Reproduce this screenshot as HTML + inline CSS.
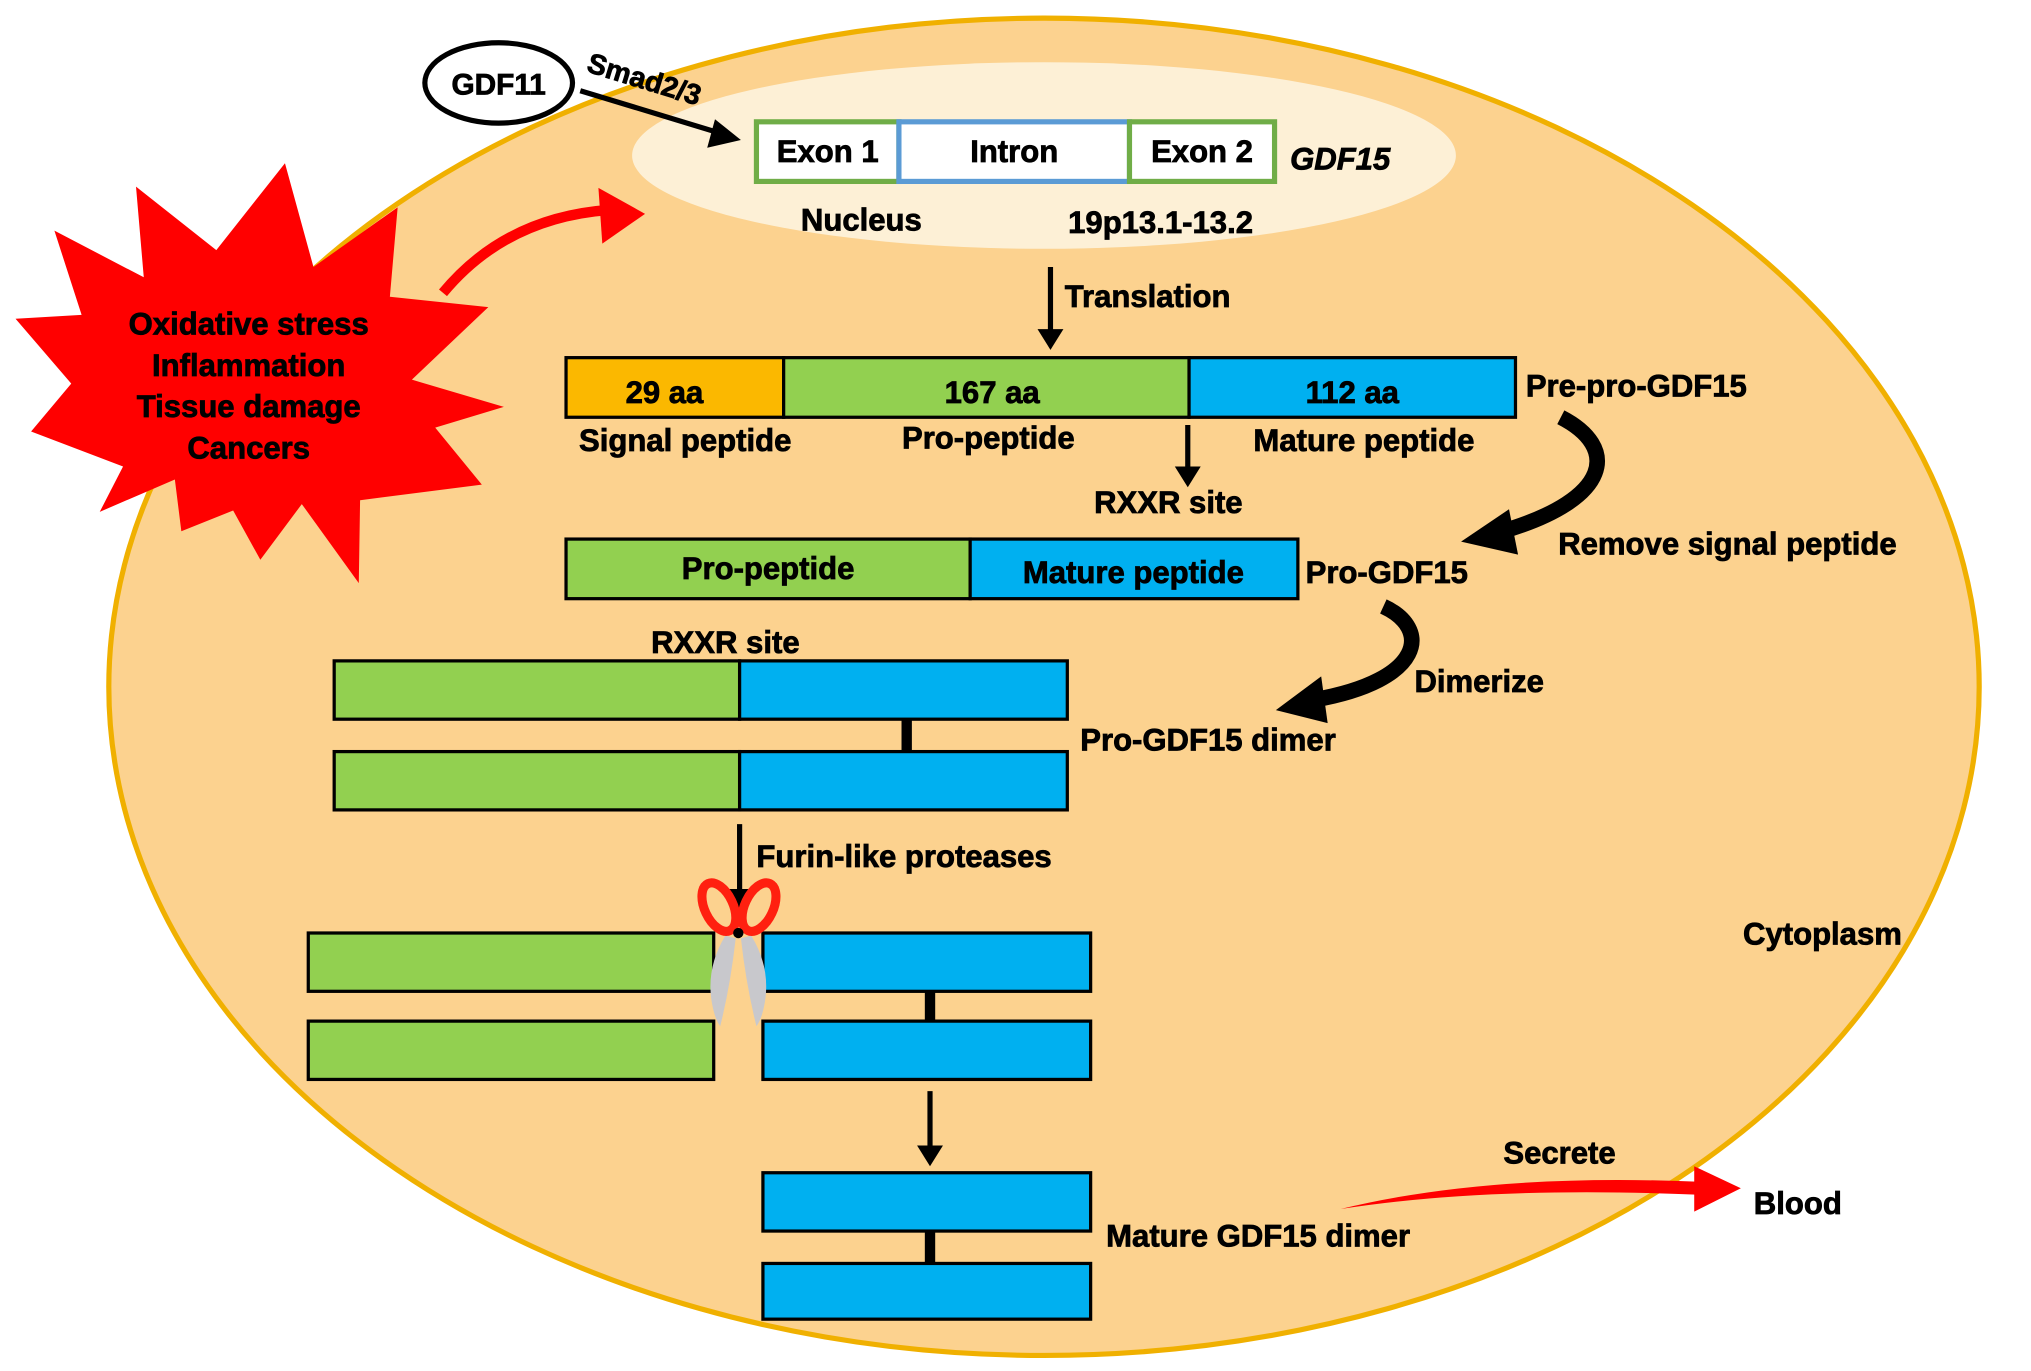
<!DOCTYPE html>
<html><head><meta charset="utf-8"><style>
html,body{margin:0;padding:0;background:#fff;}
svg{display:block;}
text{font-family:"Liberation Sans",Arial,sans-serif;font-weight:bold;stroke:#000;stroke-width:0.6px;}
</style></head><body>
<svg width="2031" height="1371" viewBox="0 0 1568 1058" preserveAspectRatio="none" xmlns="http://www.w3.org/2000/svg">
<ellipse cx="806" cy="530" rx="722" ry="516" fill="#fcd28f" stroke="#f0b000" stroke-width="4"/>
<ellipse cx="806" cy="120" rx="318" ry="72" fill="#fdf0d6"/>
<polygon fill="#ff0000" points="220,126 242,206 307,160 301,229 377,237 318,293 389,314 336,330 372,374 278,386 277,450 233,389 201,432 180,394 140,410 135,370 77,395 95,360 24,333 55,296 12,246 63,243 42,178 111,214 105,144 167,193"/>
<g font-size="24" text-anchor="middle" fill="#000">
<text x="192" y="258">Oxidative stress</text>
<text x="192" y="290">Inflammation</text>
<text x="192" y="322">Tissue damage</text>
<text x="192" y="354">Cancers</text>
</g>
<path d="M342,226 Q390,168 470,162" stroke="#ff0000" stroke-width="8" fill="none"/>
<polygon points="462,145 498,165 465,188" fill="#ff0000"/>
<ellipse cx="385" cy="64" rx="57" ry="31" fill="#fff" stroke="#000" stroke-width="4"/>
<text x="385" y="73" font-size="23" text-anchor="middle">GDF11</text>
<line x1="448" y1="70" x2="560" y2="104" stroke="#000" stroke-width="4"/>
<polygon points="572,108 552,92 546,114" fill="#000"/>
<text x="452" y="55" font-size="22" transform="rotate(17 452 55)">Smad2/3</text>
<rect x="584" y="94" width="110" height="46" fill="#fff" stroke="#70ad47" stroke-width="4"/>
<rect x="694" y="94" width="178" height="46" fill="#fff" stroke="#5b9bd5" stroke-width="4"/>
<rect x="872" y="94" width="112" height="46" fill="#fff" stroke="#70ad47" stroke-width="4"/>
<g font-size="24" text-anchor="middle">
<text x="639" y="125">Exon 1</text><text x="783" y="125">Intron</text><text x="928" y="125">Exon 2</text>
</g>
<text x="996" y="131" font-size="24" font-style="italic">GDF15</text>
<text x="665" y="178" font-size="24" text-anchor="middle">Nucleus</text>
<text x="896" y="180" font-size="24" text-anchor="middle">19p13.1-13.2</text>
<line x1="811" y1="206" x2="811" y2="258" stroke="#000" stroke-width="4"/>
<polygon points="801,254 821,254 811,270" fill="#000"/>
<text x="822" y="237" font-size="24">Translation</text>
<rect x="437" y="276" width="168" height="46" fill="#fbb800" stroke="#000" stroke-width="2.5"/>
<rect x="605" y="276" width="313" height="46" fill="#92d050" stroke="#000" stroke-width="2.5"/>
<rect x="918" y="276" width="252" height="46" fill="#00b0f0" stroke="#000" stroke-width="2.5"/>
<g font-size="24" text-anchor="middle">
<text x="513" y="311">29 aa</text><text x="766" y="311">167 aa</text><text x="1044" y="311">112 aa</text>
<text x="529" y="348">Signal peptide</text><text x="763" y="346">Pro-peptide</text><text x="1053" y="348">Mature peptide</text>
</g>
<text x="1178" y="306" font-size="24">Pre-pro-GDF15</text>
<line x1="917" y1="328" x2="917" y2="364" stroke="#000" stroke-width="4"/>
<polygon points="907,360 927,360 917,376" fill="#000"/>
<text x="902" y="396" font-size="24" text-anchor="middle">RXXR site</text>
<path d="M1205,322 C1250,345 1245,385 1160,410" stroke="#000" stroke-width="12" fill="none"/>
<polygon points="1128,418 1165,393 1172,428" fill="#000"/>
<text x="1203" y="428" font-size="24">Remove signal peptide</text>
<rect x="437" y="416" width="312" height="46" fill="#92d050" stroke="#000" stroke-width="2.5"/>
<rect x="749" y="416" width="253" height="46" fill="#00b0f0" stroke="#000" stroke-width="2.5"/>
<text x="593" y="447" font-size="24" text-anchor="middle">Pro-peptide</text>
<text x="875" y="450" font-size="24" text-anchor="middle">Mature peptide</text>
<text x="1008" y="450" font-size="24">Pro-GDF15</text>
<path d="M1068,468 C1105,485 1100,525 1015,540" stroke="#000" stroke-width="12" fill="none"/>
<polygon points="985,548 1020,522 1025,558" fill="#000"/>
<text x="1092" y="534" font-size="24">Dimerize</text>
<text x="560" y="504" font-size="24" text-anchor="middle">RXXR site</text>
<rect x="258" y="510" width="313" height="45" fill="#92d050" stroke="#000" stroke-width="2.5"/>
<rect x="571" y="510" width="253" height="45" fill="#00b0f0" stroke="#000" stroke-width="2.5"/>
<rect x="258" y="580" width="313" height="45" fill="#92d050" stroke="#000" stroke-width="2.5"/>
<rect x="571" y="580" width="253" height="45" fill="#00b0f0" stroke="#000" stroke-width="2.5"/>
<rect x="696" y="555" width="8" height="25" fill="#000"/>
<text x="834" y="579" font-size="24">Pro-GDF15 dimer</text>
<line x1="571" y1="636" x2="571" y2="690" stroke="#000" stroke-width="4"/>
<polygon points="561,686 581,686 571,702" fill="#000"/>
<text x="584" y="669" font-size="24">Furin-like proteases</text>
<rect x="238" y="720" width="313" height="45" fill="#92d050" stroke="#000" stroke-width="2.5"/>
<rect x="238" y="788" width="313" height="45" fill="#92d050" stroke="#000" stroke-width="2.5"/>
<rect x="589" y="720" width="253" height="45" fill="#00b0f0" stroke="#000" stroke-width="2.5"/>
<rect x="589" y="788" width="253" height="45" fill="#00b0f0" stroke="#000" stroke-width="2.5"/>
<rect x="714" y="765" width="8" height="23" fill="#000"/>
<path d="M560,722 Q546,745 549,770 Q551,785 556,792 Q564,760 568,724 z" fill="#c8c8cc"/>
<path d="M580,722 Q594,745 591,770 Q589,785 584,792 Q576,760 572,724 z" fill="#c8c8cc"/>
<ellipse cx="555" cy="700" rx="11" ry="20" fill="none" stroke="#ff2010" stroke-width="7" transform="rotate(-25 555 700)"/>
<ellipse cx="586" cy="700" rx="11" ry="20" fill="none" stroke="#ff2010" stroke-width="7" transform="rotate(25 586 700)"/>
<circle cx="570" cy="720" r="4" fill="#000"/>
<line x1="718" y1="842" x2="718" y2="888" stroke="#000" stroke-width="4"/>
<polygon points="708,884 728,884 718,900" fill="#000"/>
<rect x="589" y="905" width="253" height="45" fill="#00b0f0" stroke="#000" stroke-width="2.5"/>
<rect x="589" y="975" width="253" height="43" fill="#00b0f0" stroke="#000" stroke-width="2.5"/>
<rect x="714" y="950" width="8" height="25" fill="#000"/>
<text x="854" y="962" font-size="24">Mature GDF15 dimer</text>
<text x="1407" y="729" font-size="24" text-anchor="middle">Cytoplasm</text>
<path d="M1035,933 Q1150,905 1312,912 L1312,922 Q1150,915 1035,933 z" fill="#ff0000"/>
<polygon points="1308,900 1344,917 1308,935" fill="#ff0000"/>
<text x="1204" y="898" font-size="24" text-anchor="middle">Secrete</text>
<text x="1354" y="937" font-size="24">Blood</text>
</svg>
</body></html>
